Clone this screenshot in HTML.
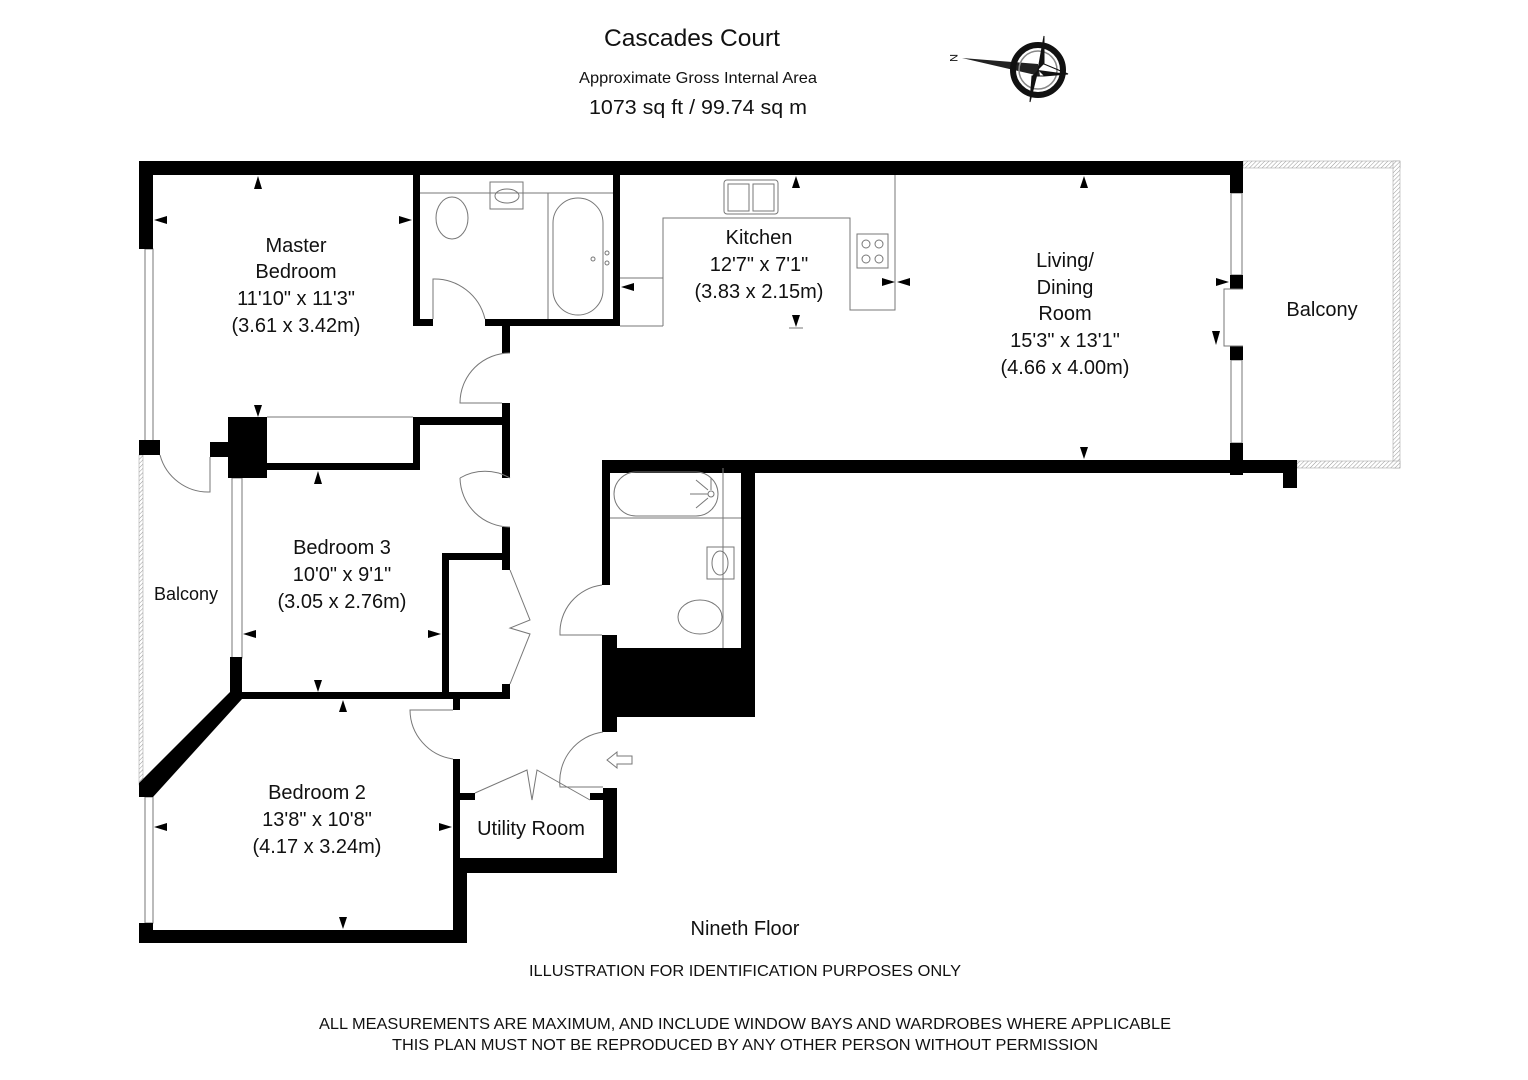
<!DOCTYPE html>
<html><head><meta charset="utf-8"><style>
html,body{margin:0;padding:0;background:#fff}
svg{display:block}
text{font-family:"Liberation Sans",sans-serif;fill:#111}
</style></head><body>
<svg width="1528" height="1080" viewBox="0 0 1528 1080" xmlns="http://www.w3.org/2000/svg">
<defs>
<pattern id="h" width="3" height="3" patternUnits="userSpaceOnUse" patternTransform="rotate(45)"><rect width="3" height="3" fill="#fff"/><line x1="0" y1="0" x2="0" y2="3" stroke="#999" stroke-width="1"/></pattern>
</defs>
<!-- headings -->
<text x="692" y="46" font-size="24" text-anchor="middle" textLength="176" lengthAdjust="spacingAndGlyphs">Cascades Court</text>
<text x="698" y="83" font-size="16" text-anchor="middle" textLength="238" lengthAdjust="spacingAndGlyphs">Approximate Gross Internal Area</text>
<text x="698" y="114" font-size="20" text-anchor="middle" textLength="218" lengthAdjust="spacingAndGlyphs">1073 sq ft  /  99.74 sq m</text>
<!-- compass -->
<g>
<text x="950" y="60" font-size="11" transform="rotate(90 953 57)">N</text>
<polygon points="962,58 1038,64 1040,76" fill="#222"/>
<circle cx="1038" cy="70" r="25" fill="none" stroke="#111" stroke-width="6"/>
<circle cx="1038" cy="70" r="19" fill="none" stroke="#888" stroke-width="1.5"/>
<polygon points="1044,36 1044,64 1038,70" fill="#111"/>
<polygon points="1030,102 1032,76 1038,70" fill="#111"/>
<polygon points="1068,74 1044,76 1038,70" fill="#111"/>
<polygon points="1044,64 1068,74 1044,76 1032,76 1030,102 1038,70 1044,36" fill="none" stroke="#111" stroke-width="1"/>
</g>
<!-- balcony left hatched -->
<rect x="139" y="455" width="4" height="330" fill="url(#h)" stroke="#999" stroke-width="0.5"/>
<!-- balcony right -->
<rect x="1243" y="161" width="157" height="7" fill="url(#h)" stroke="#999" stroke-width="0.5"/>
<rect x="1393" y="161" width="7" height="307" fill="url(#h)" stroke="#999" stroke-width="0.5"/>
<rect x="1297" y="461" width="103" height="7" fill="url(#h)" stroke="#999" stroke-width="0.5"/>
<!-- windows -->
<g fill="none" stroke="#777" stroke-width="1">
<rect x="145" y="249" width="8" height="193"/>
<rect x="232" y="478" width="10" height="180"/>
<rect x="145" y="797" width="8" height="126"/>
<rect x="1231" y="193" width="11" height="82"/>
<rect x="1231" y="360" width="11" height="83"/>
</g>
<!-- walls -->
<g fill="#000">
<rect x="139" y="161" width="1104" height="14"/>
<rect x="139" y="161" width="14" height="88"/>
<rect x="139" y="440" width="21" height="15"/>
<rect x="210" y="442" width="20" height="15"/>
<rect x="228" y="417" width="39" height="61"/>
<rect x="230" y="463" width="190" height="7"/>
<rect x="413" y="417" width="7" height="53"/>
<rect x="413" y="417" width="97" height="8"/>
<rect x="413" y="175" width="7" height="151"/>
<rect x="413" y="319" width="20" height="7"/>
<rect x="485" y="319" width="135" height="7"/>
<rect x="613" y="175" width="7" height="151"/>
<rect x="502" y="326" width="8" height="27"/>
<rect x="502" y="403" width="8" height="75"/>
<rect x="502" y="527" width="8" height="43"/>
<rect x="442" y="553" width="68" height="7"/>
<rect x="442" y="553" width="7" height="145"/>
<rect x="502" y="684" width="8" height="15"/>
<rect x="230" y="657" width="12" height="42"/>
<rect x="230" y="692" width="280" height="7"/>
<rect x="453" y="698" width="7" height="12"/>
<polygon points="230,692 242,692 242,699 153,797 139,797 139,783"/>
<rect x="139" y="783" width="14" height="14"/>
<rect x="139" y="923" width="14" height="20"/>
<rect x="139" y="930" width="328" height="13"/>
<rect x="453" y="759" width="7" height="114"/>
<rect x="453" y="858" width="14" height="85"/>
<rect x="460" y="793" width="15" height="7"/>
<rect x="453" y="858" width="164" height="15"/>
<rect x="603" y="788" width="14" height="85"/>
<rect x="590" y="793" width="15" height="7"/>
<rect x="602" y="460" width="8" height="125"/>
<rect x="602" y="635" width="15" height="97"/>
<rect x="602" y="460" width="695" height="13"/>
<rect x="741" y="460" width="14" height="257"/>
<rect x="602" y="648" width="153" height="69"/>
<rect x="1283" y="460" width="14" height="28"/>
<rect x="1230" y="161" width="13" height="32"/>
<rect x="1230" y="275" width="13" height="14"/>
<rect x="1230" y="346" width="13" height="14"/>
<rect x="1230" y="443" width="13" height="32"/>
</g>
<!-- fixtures & doors -->
<g fill="none" stroke="#777" stroke-width="1">
<line x1="420" y1="193" x2="613" y2="193"/>
<line x1="548" y1="193" x2="548" y2="319"/>
<rect x="553" y="198" width="50" height="117" rx="25"/>
<circle cx="593" cy="259" r="2"/><circle cx="607" cy="253" r="2"/><circle cx="607" cy="263" r="2"/>
<rect x="490" y="182" width="33" height="27"/>
<ellipse cx="507" cy="196" rx="12" ry="7"/>
<ellipse cx="452" cy="218" rx="16" ry="21"/>
<path d="M433,319 V279 A52,52 0 0 1 485,319"/>
<path d="M510,353 A50,50 0 0 0 460,403 H502"/>
<path d="M510,478 A50,50 0 0 0 460,478"/>
<path d="M460,478 A50,50 0 0 0 510,527"/>
<line x1="267" y1="417" x2="413" y2="417"/>
<path d="M160,455 A50,50 0 0 0 210,492 V457"/>
<path d="M510,570 L530,620 L510,628 L530,634 L510,684"/>
<path d="M602,585 A48,48 0 0 0 560,635 H602"/>
<path d="M453,710 H410 A50,50 0 0 0 453,759"/>
<path d="M475,793 L527,770 L532,800 L537,770 L590,800"/>
<path d="M603,732 A50,50 0 0 0 560,787 H603"/>
<polygon points="607,760 617,752 617,756 632,756 632,764 617,764 617,768"/>
<!-- bath2 -->
<line x1="610" y1="518" x2="741" y2="518"/>
<line x1="723" y1="468" x2="723" y2="648"/>
<rect x="614" y="472" width="104" height="44" rx="22"/>
<circle cx="711" cy="494" r="3"/>
<path d="M690,494 H708 M696,480 L708,490 M696,508 L708,498 M711,478 V490"/>
<rect x="707" y="547" width="27" height="32"/>
<ellipse cx="720" cy="563" rx="8" ry="12"/>
<ellipse cx="700" cy="617" rx="22" ry="17"/>
<!-- kitchen -->
<rect x="724" y="180" width="54" height="34" rx="3"/>
<rect x="728" y="184" width="21" height="27"/><rect x="753" y="184" width="21" height="27"/>
<path d="M620,278 H663 V218 H850 V310 H895 V175"/>
<line x1="620" y1="326" x2="663" y2="326"/>
<line x1="663" y1="278" x2="663" y2="326"/>
<rect x="857" y="234" width="31" height="34"/>
<circle cx="866" cy="244" r="4"/><circle cx="879" cy="244" r="4"/><circle cx="866" cy="259" r="4"/><circle cx="879" cy="259" r="4"/>
<path d="M1243,289 H1224 V346 H1243"/>
</g>
<!-- dimension arrows -->
<g fill="#000">
<polygon points="258,176 254,189 262,189"/>
<polygon points="154,220 167,216 167,224"/>
<polygon points="412,220 399,216 399,224"/>
<polygon points="258,417 254,405 262,405"/>
<polygon points="318,471 314,484 322,484"/>
<polygon points="243,634 256,630 256,638"/>
<polygon points="441,634 428,630 428,638"/>
<polygon points="318,692 314,680 322,680"/>
<polygon points="343,700 339,712 347,712"/>
<polygon points="154,827 167,823 167,831"/>
<polygon points="452,827 439,823 439,831"/>
<polygon points="343,929 339,917 347,917"/>
<polygon points="796,176 792,188 800,188"/>
<polygon points="796,327 792,315 800,315"/>
<polygon points="621,287 634,283 634,291"/>
<polygon points="895,282 882,278 882,286"/>
<polygon points="897,282 910,278 910,286"/>
<polygon points="1084,176 1080,188 1088,188"/>
<polygon points="1084,459 1080,447 1088,447"/>
<polygon points="1229,282 1216,278 1216,286"/>
<polygon points="1216,345 1212,331 1220,331"/>
</g>
<line x1="789" y1="328" x2="803" y2="328" stroke="#777"/>
<!-- labels -->
<g font-size="20" text-anchor="middle">
<text x="296" y="252">Master</text>
<text x="296" y="278">Bedroom</text>
<text x="296" y="305">11'10" x 11'3"</text>
<text x="296" y="332">(3.61 x 3.42m)</text>
<text x="759" y="244">Kitchen</text>
<text x="759" y="271">12'7" x 7'1"</text>
<text x="759" y="298">(3.83 x 2.15m)</text>
<text x="1065" y="267">Living/</text>
<text x="1065" y="294">Dining</text>
<text x="1065" y="320">Room</text>
<text x="1065" y="347">15'3" x 13'1"</text>
<text x="1065" y="374">(4.66 x 4.00m)</text>
<text x="1322" y="316">Balcony</text>
<text x="342" y="554">Bedroom 3</text>
<text x="342" y="581">10'0" x 9'1"</text>
<text x="342" y="608">(3.05 x 2.76m)</text>
<text x="186" y="600" font-size="18">Balcony</text>
<text x="317" y="799">Bedroom 2</text>
<text x="317" y="826">13'8" x 10'8"</text>
<text x="317" y="853">(4.17 x 3.24m)</text>
<text x="531" y="835">Utility Room</text>
<text x="745" y="935">Nineth Floor</text>
</g>
<g font-size="16" text-anchor="middle">
<text x="745" y="976" textLength="432" lengthAdjust="spacingAndGlyphs">ILLUSTRATION FOR IDENTIFICATION PURPOSES ONLY</text>
<text x="745" y="1029" textLength="852" lengthAdjust="spacingAndGlyphs">ALL MEASUREMENTS ARE MAXIMUM, AND INCLUDE WINDOW BAYS AND WARDROBES WHERE APPLICABLE</text>
<text x="745" y="1050" textLength="706" lengthAdjust="spacingAndGlyphs">THIS PLAN MUST NOT BE REPRODUCED BY ANY OTHER PERSON WITHOUT PERMISSION</text>
</g>
</svg>
</body></html>
